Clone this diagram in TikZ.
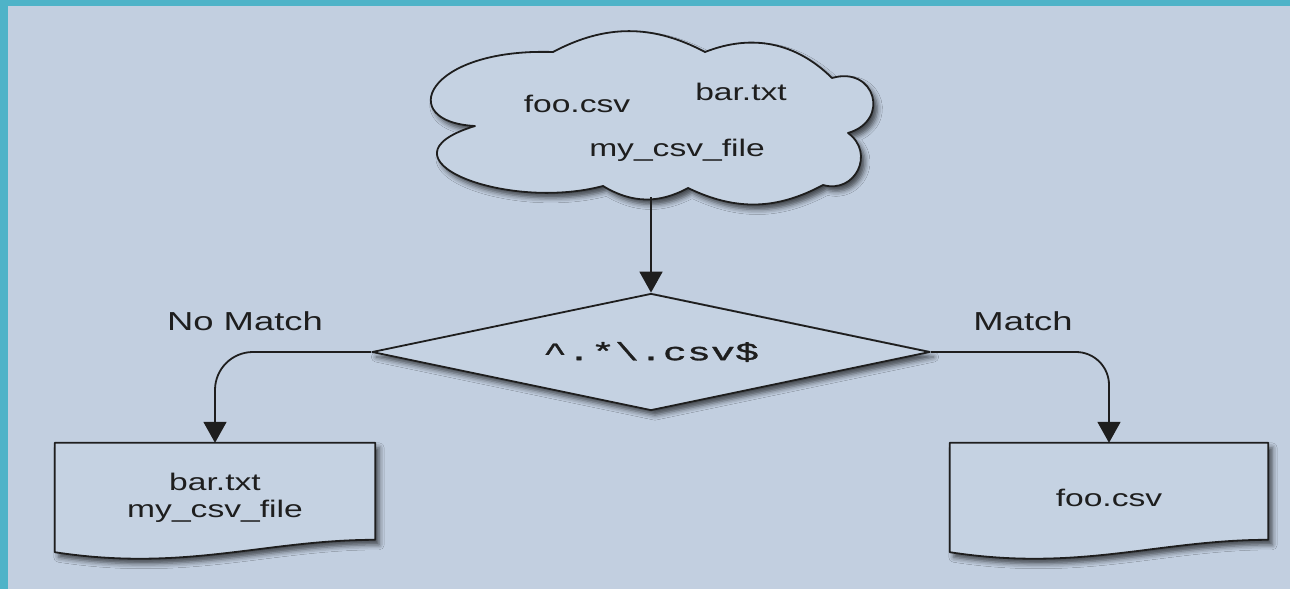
\documentclass[tikz,border=0pt]{standalone}
\usepackage{fontspec}
\usetikzlibrary{arrows.meta,shapes.geometric,shadows.blur,calc}
\newfontfamily\labfont[FakeStretch=1.4]{Liberation Sans}
\newfontfamily\regfont[FakeStretch=1.6,FakeBold=1.2]{Liberation Mono}
\definecolor{tealband}{RGB}{78,179,200}
\definecolor{bgc}{RGB}{194,207,224}
\definecolor{shapefill}{RGB}{197,210,226}
\definecolor{ink}{RGB}{30,30,30}
\begin{document}
\begin{tikzpicture}[x=1pt,y=-1pt,
  outline/.style={draw=ink, line width=1.8pt, line join=round, fill=shapefill,
    blur shadow={shadow xshift=4pt, shadow yshift=-5pt, shadow blur radius=5pt, shadow opacity=65}},
  arr/.style={draw=ink, line width=1.8pt, -{Triangle[width=23pt,length=21pt]}},
  txt/.style={text=ink, font=\labfont\fontsize{24}{27}\selectfont, inner sep=0pt},
  lab/.style={text=ink, font=\labfont\fontsize{26}{30}\selectfont, inner sep=0pt},
  holder/.style={minimum width=#1, minimum height=109pt, inner sep=0pt}
]
\fill[tealband] (0,0) rectangle (1290,589);
\fill[bgc] (8,6) rectangle (1290,589);
\useasboundingbox (0,0) rectangle (1290,589);

% cloud
\node[minimum width=448pt, minimum height=164pt, inner sep=0pt] (cloud) at (651,115) {};
\draw[outline] (553,52) to[bend left=28] (705,52) to[bend left=33] (832,78)
  to[bend left=90, looseness=2] (848,133) to[bend left=80, looseness=1.5] (823,185)
  to[bend left=27] (688,188) to[bend left=30] (603,186)
  .. controls (505,212) and (370,158) .. (475,126)
  .. controls (395,122) and (425,48) .. (553,52) -- cycle;
\node[txt, anchor=base] (c1) at (577,112) {foo.csv};
\node[txt, anchor=base] (c2) at (741,100) {bar.txt};
\node[txt, anchor=base] (c3) at (677,156) {my\_csv\_file};

% decision
\node[diamond, outline, aspect=4.77, minimum width=558pt, minimum height=117pt, inner sep=0pt,
  text=ink, font=\regfont\fontsize{25}{30}\selectfont] (dia) at (651,352)
  {\textasciicircum.*\textbackslash.csv\$};

% documents
\node[holder=320pt] (ld) at (215,497.5) {};
\node[holder=318pt] (rd) at (1109,497.5) {};
\draw[outline] (ld.north west) -- (ld.north east) -- ($(ld.north east)+(0,97)$)
  .. controls +(-110,0) and +(130,20) .. (ld.south west) -- cycle;
\draw[outline] (rd.north west) -- (rd.north east) -- ($(rd.north east)+(0,97)$)
  .. controls +(-110,0) and +(130,20) .. (rd.south west) -- cycle;
\node[txt, align=center] (ldtext) at (ld) {bar.txt\\my\_csv\_file};
\node[txt] (rdtext) at (rd) {foo.csv};

% labels
\node[lab, anchor=base] (nomatch) at (245,330) {No Match};
\node[lab, anchor=base] (match) at (1023,330) {Match};

% connectors
\draw[arr] (cloud.south) -- (dia.north);
\draw[arr, rounded corners=38pt] (dia.west) -| (ld.north);
\draw[arr, rounded corners=33pt] (dia.east) -| (rd.north);
\end{tikzpicture}
\end{document}
